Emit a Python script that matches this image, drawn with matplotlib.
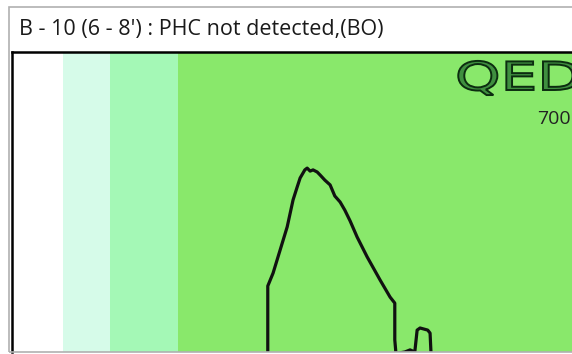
import matplotlib
matplotlib.use("Agg")
import matplotlib.pyplot as plt
from matplotlib.patches import Rectangle, PathPatch
from matplotlib.textpath import TextPath
from matplotlib.font_manager import FontProperties
from matplotlib.transforms import Affine2D

# chromatogram trace (retention scale 0-100, response %)
trace_t = [43.5, 43.5, 44.4, 45.6, 46.8, 47.8, 48.5, 49.0, 49.8, 50.2, 50.7, 51.2,
           51.9, 52.4, 53.2, 54.1, 54.9, 55.8, 56.6, 57.5, 58.7, 60.4, 62.6, 64.3,
           65.1, 65.1, 65.3, 66.8, 67.7, 68.5, 68.9, 69.4, 70.7, 71.1, 71.3, 100.0]
trace_r = [-2.0, 22.0, 26.3, 34.0, 41.7, 50.7, 55.0, 58.0, 60.7, 61.3, 60.3, 60.7,
           60.0, 59.0, 57.3, 55.7, 52.0, 50.0, 47.3, 43.7, 38.3, 31.7, 24.0, 18.3,
           16.3, 4.0, -0.5, 0.0, 0.7, 0.0, 7.3, 8.0, 7.3, 6.3, -2.0, -2.0]

# background bands (start, end, colour)
band_edges = [0, 8.7, 16.7, 28.2, 100]
band_colors = ["#ffffff", "#d6fbe9", "#a4f8b6", "#89e86b"]

title = "B - 10 (6 - 8') : PHC not detected,(BO)"
scale_label = "700"

W, H = 572, 354
fig = plt.figure(figsize=(W / 100, H / 100), dpi=100)
fig.patch.set_facecolor("white")

# outer grey frame
fig.add_artist(Rectangle((9 / W, 2 / H), 1.2, (H - 9) / H, transform=fig.transFigure,
                         fill=False, edgecolor="#b0b0b0", linewidth=1.2))

fig.text(19 / W, 1 - 30 / H, title, fontsize=15.5, family="Open Sans", va="center",
         ha="left", color="#1a1a1a")

ax = fig.add_axes([12 / W, 2 / H, 588 / W, 300 / H])
ax.set_xlim(0, 100)
ax.set_ylim(0, 100)
for i, c in enumerate(band_colors):
    ax.axvspan(band_edges[i], band_edges[i + 1], color=c, lw=0)
ax.plot(trace_t, trace_r, color="#111111", lw=2.3, solid_joinstyle="round")
ax.set_xticks([])
ax.set_yticks([])
for s in ["right", "bottom"]:
    ax.spines[s].set_visible(False)
ax.spines["left"].set_linewidth(1.8)
ax.spines["top"].set_linewidth(1.8)

fig.text(537 / W, 1 - 119 / H, scale_label, fontsize=14, family="Open Sans",
         va="center", ha="left", color="#222222")

# QED logo, stretched wide
tp = TextPath((0, 0), "QED", size=40, prop=FontProperties(family="DejaVu Sans"))
logo = PathPatch(tp, transform=Affine2D().scale(1.45, 0.98).translate(455, H - 90),
                 facecolor="#3f8f3f", edgecolor="#0c2c10", lw=1.4)
fig.add_artist(logo)

fig.savefig("out.png", dpi=100)
